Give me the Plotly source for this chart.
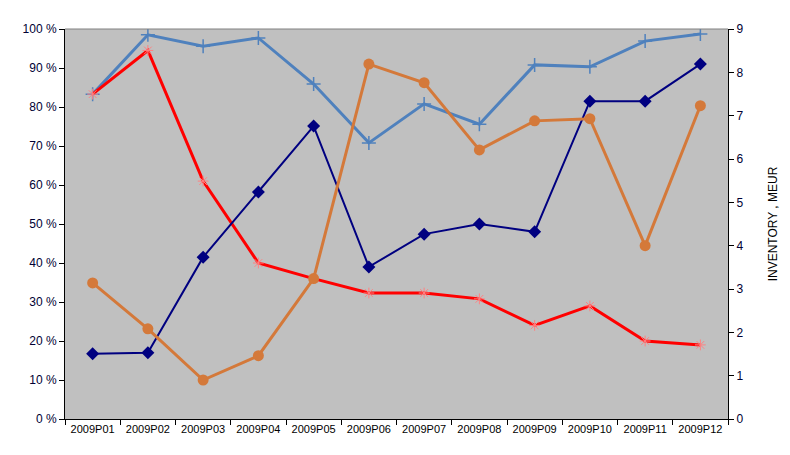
import plotly.graph_objects as go

categories = ["2009P01", "2009P02", "2009P03", "2009P04", "2009P05", "2009P06",
              "2009P07", "2009P08", "2009P09", "2009P10", "2009P11", "2009P12"]
blue_pct = [83.3, 98.5, 95.6, 97.7, 85.9, 70.8, 80.8, 75.6, 90.8, 90.3, 96.9, 98.7]
red_pct = [83.3, 94.5, 61.0, 40.0, 36.0, 32.3, 32.3, 30.8, 24.0, 29.0, 20.0, 19.0]
navy_pct = [16.7, 17.0, 41.5, 58.2, 75.1, 39.0, 47.4, 50.0, 48.0, 81.5, 81.5, 91.0]
inventory_meur = [3.14, 2.08, 0.90, 1.46, 3.24, 8.19, 7.76, 6.21, 6.88, 6.93, 4.00, 7.23]

left_ticks = [0, 10, 20, 30, 40, 50, 60, 70, 80, 90, 100]
left_labels = [f"{v} %" for v in left_ticks]
right_ticks = list(range(0, 10))

fig = go.Figure()
fig.add_trace(go.Scatter(
    x=categories, y=blue_pct, mode="lines+markers",
    line=dict(color="#4F81BD", width=3),
    marker=dict(symbol="cross-thin-open", size=10, color="#4F81BD",
                line=dict(color="#4F81BD", width=1.5)),
    showlegend=False))
fig.add_trace(go.Scatter(
    x=categories, y=red_pct, mode="lines+markers",
    line=dict(color="#FF0000", width=3),
    marker=dict(symbol="asterisk-open", size=9, color="#FF8080",
                line=dict(color="#FF8080", width=1)),
    showlegend=False))
fig.add_trace(go.Scatter(
    x=categories, y=inventory_meur, mode="lines+markers", yaxis="y2",
    line=dict(color="#D4793A", width=3),
    marker=dict(symbol="circle", size=11, color="#D4793A"),
    showlegend=False))
fig.add_trace(go.Scatter(
    x=categories, y=navy_pct, mode="lines+markers",
    line=dict(color="#000080", width=2),
    marker=dict(symbol="diamond", size=10, color="#000080"),
    showlegend=False))

fig.update_layout(
    width=790, height=455,
    margin=dict(l=65, r=56, t=29, b=36),
    paper_bgcolor="white",
    plot_bgcolor="#C0C0C0",
    font=dict(family="Liberation Sans, Arial", color="#000000", size=12),
    xaxis=dict(
        type="category", tickson="boundaries", ticks="outside", ticklen=5,
        tickcolor="black", showline=True, linecolor="black", linewidth=1,
        showgrid=False, tickfont=dict(size=11, color="#000000"), range=[-0.5, 11.5]),
    yaxis=dict(
        range=[0, 100], tickvals=left_ticks, ticktext=left_labels,
        ticks="outside", ticklen=5, tickcolor="black", showline=True,
        linecolor="black", linewidth=1, showgrid=False, zeroline=False,
        tickfont=dict(size=12, color="#000033")),
    yaxis2=dict(
        range=[0, 9], tickvals=right_ticks, overlaying="y", side="right",
        ticks="outside", ticklen=5, tickcolor="black", showline=True,
        linecolor="black", linewidth=1, showgrid=False, zeroline=False,
        tickfont=dict(size=12, color="#000033"),
        title=dict(text="INVENTORY , MEUR", font=dict(size=12, color="#000000"),
                   standoff=26)),
    shapes=[dict(type="line", xref="paper", yref="paper", x0=0, x1=1, y0=1, y1=1,
                 line=dict(color="#808080", width=1))],
)

fig.write_html("out.html")
